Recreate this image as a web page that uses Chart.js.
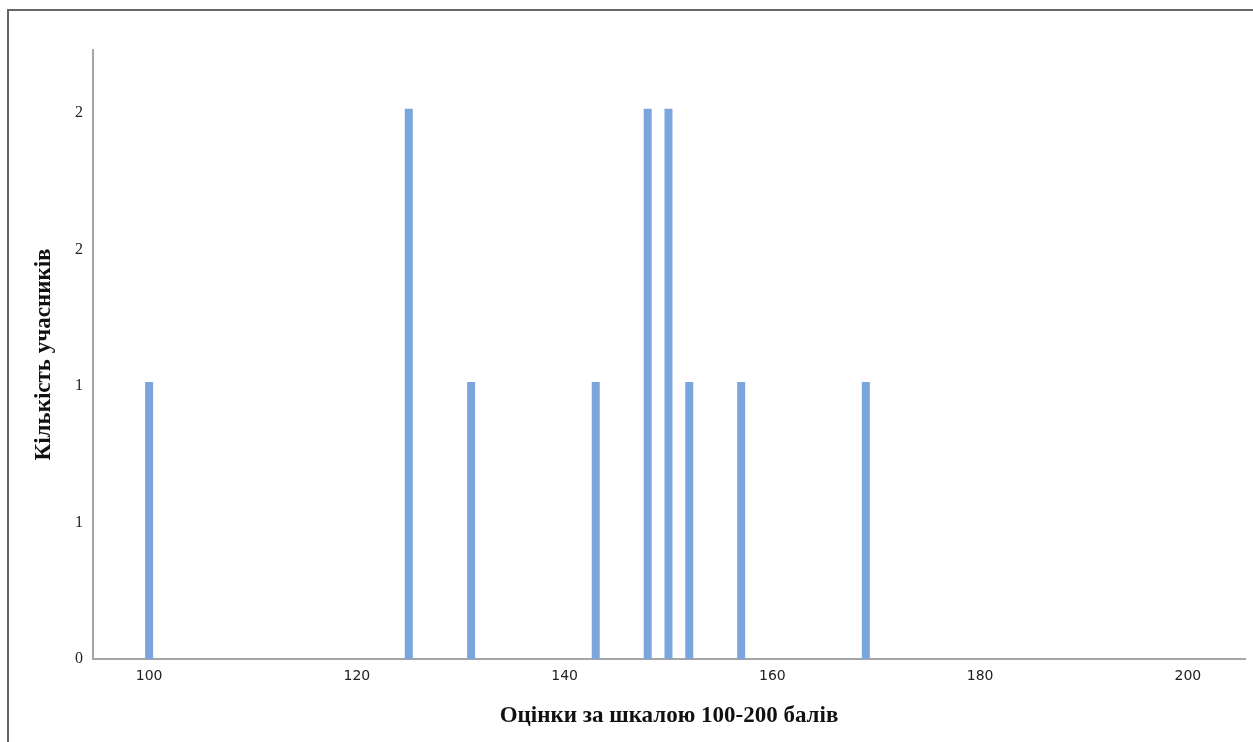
<!DOCTYPE html>
<html>
<head>
<meta charset="utf-8">
<script src="https://cdn.jsdelivr.net/npm/chart.js@4/dist/chart.umd.min.js"></script>
<style>
  html, body { margin: 0; padding: 0; background: #fff; }
  #wrap { position: relative; width: 1253px; height: 742px; overflow: hidden; }
  #frame { position: absolute; left: 7px; top: 9px; right: -10px; bottom: -10px;
           border-left: 2px solid #666; border-top: 2px solid #666; }
  #c { position: absolute; left: 0; top: 0; }
</style>
</head>
<body>
<div id="wrap">
  <div id="frame"></div>
  <canvas id="c" width="1253" height="742"></canvas>
</div>
<script>
'use strict';

// Score (100-200 scale) -> number of participants
const SCORES = [100, 125, 131, 143, 148, 150, 152, 157, 169];
const COUNTS = [1, 2, 1, 1, 2, 2, 1, 1, 1];

const X_TICKS = [100, 120, 140, 160, 180, 200];
const Y_TICKS = [0, 0.5, 1, 1.5, 2];

const X_TITLE = 'Оцінки за шкалою 100-200 балів';
const Y_TITLE = 'Кількість учасників';

const BAR_COLOR  = '#7aa6dd';
const AXIS_COLOR = '#a6a6a6';

// each score is drawn as a thick vertical segment from 0 to its count
const datasets = SCORES.map((s, i) => ({
  data: [{x: s, y: 0}, {x: s, y: COUNTS[i]}],
  showLine: true,
  borderColor: BAR_COLOR,
  borderWidth: 8,
  borderCapStyle: 'square',
  pointRadius: 0,
  pointHoverRadius: 0,
}));

new Chart(document.getElementById('c').getContext('2d'), {
  type: 'scatter',
  data: {datasets},
  options: {
    responsive: false,
    animation: false,
    layout: {padding: {top: 50, right: 8, left: 0, bottom: 0}},
    plugins: {legend: {display: false}, tooltip: {enabled: false}},
    scales: {
      x: {
        type: 'linear', min: 94.6, max: 205.5,
        afterBuildTicks: ax => { ax.ticks = X_TICKS.map(v => ({value: v})); },
        afterFit: ax => { ax.height = 83; },
        grid: {drawOnChartArea: false, drawTicks: false},
        border: {color: AXIS_COLOR, width: 2},
        ticks: {color: '#222', padding: 9, maxRotation: 0,
                font: {family: 'DejaVu Sans', size: 14}},
        title: {display: true, text: X_TITLE, color: '#111', padding: {top: 0, bottom: 12},
                font: {family: 'Liberation Serif', size: 23, weight: 'bold'}},
      },
      y: {
        type: 'linear', min: 0, max: 2.23,
        afterBuildTicks: ax => { ax.ticks = Y_TICKS.map(v => ({value: v})); },
        afterFit: ax => { ax.width = 93; },
        grid: {drawOnChartArea: false, drawTicks: false},
        border: {color: AXIS_COLOR, width: 2},
        ticks: {color: '#222', padding: 10,
                callback: v => String(Math.round(v)),
                font: {family: 'Liberation Serif', size: 16}},
        title: {display: true, text: Y_TITLE, color: '#111', padding: {top: 30, bottom: 0},
                font: {family: 'Liberation Serif', size: 23, weight: 'bold'}},
      },
    },
  },
});
</script>
</body>
</html>
